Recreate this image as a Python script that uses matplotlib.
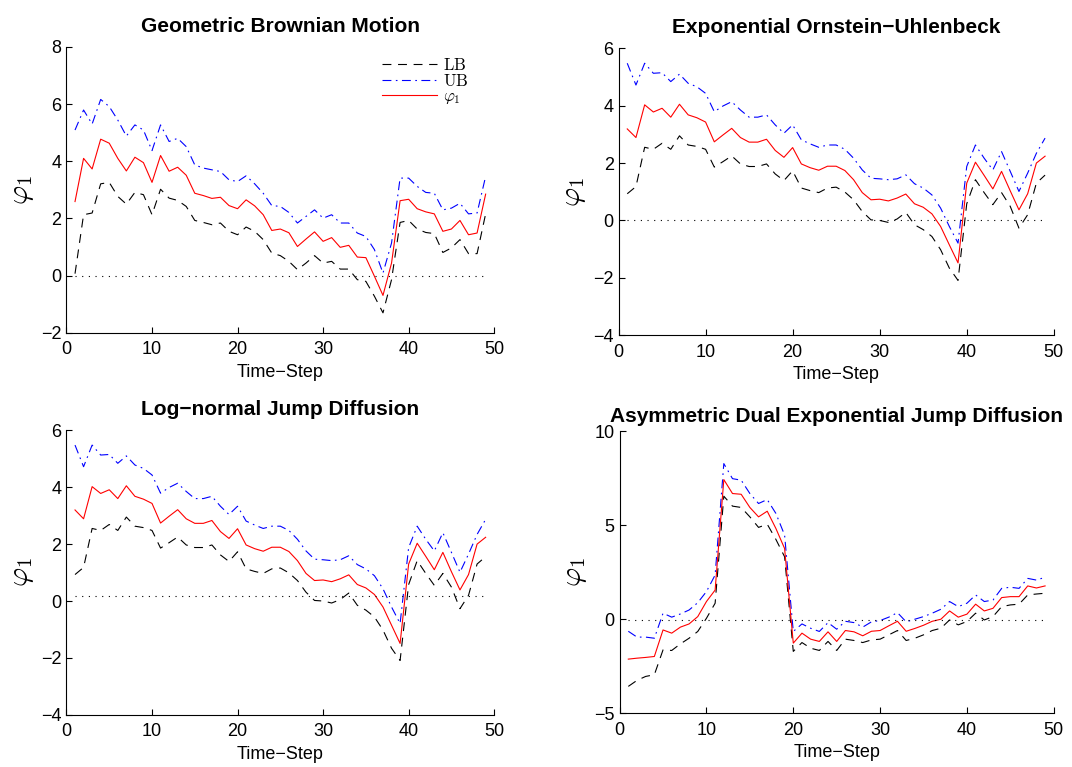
import matplotlib
matplotlib.use("Agg")
import matplotlib.pyplot as plt

plt.rcParams['font.family'] = ['Liberation Sans', 'DejaVu Sans']
plt.rcParams['mathtext.fontset'] = 'cm'

steps = list(range(1, 50))

# Geometric Brownian Motion
gbm_lb = [0.07, 2.13, 2.19, 3.21, 3.26, 2.77, 2.50, 2.91, 2.83, 2.13,
          3.02, 2.71, 2.63, 2.42, 1.93, 1.86, 1.78, 1.84, 1.55, 1.43,
          1.70, 1.55, 1.26, 0.79, 0.70, 0.50, 0.21, 0.44, 0.70, 0.44,
          0.50, 0.23, 0.23, -0.14, -0.20, -0.72, -1.30, -0.14, 1.86, 1.93,
          1.63, 1.51, 1.47, 0.81, 0.97, 1.26, 0.77, 0.77, 2.16]
gbm_ub = [5.09, 5.79, 5.30, 6.16, 5.91, 5.44, 4.88, 5.27, 5.09, 4.37,
          5.27, 4.69, 4.80, 4.51, 3.87, 3.76, 3.70, 3.64, 3.35, 3.29,
          3.49, 3.21, 2.88, 2.45, 2.42, 2.21, 1.84, 2.07, 2.30, 2.01,
          2.13, 1.84, 1.84, 1.49, 1.37, 0.91, 0.09, 1.14, 3.41, 3.41,
          3.12, 2.91, 2.88, 2.30, 2.36, 2.53, 2.16, 2.19, 3.47]
gbm_phi = [2.59, 4.10, 3.73, 4.77, 4.63, 4.10, 3.66, 4.14, 3.95, 3.26,
           4.20, 3.65, 3.79, 3.51, 2.88, 2.80, 2.70, 2.74, 2.45, 2.34,
           2.65, 2.44, 2.13, 1.58, 1.63, 1.50, 1.02, 1.28, 1.53, 1.20,
           1.33, 0.99, 1.06, 0.65, 0.63, -0.02, -0.69, 0.44, 2.62, 2.67,
           2.34, 2.23, 2.16, 1.55, 1.63, 1.93, 1.43, 1.49, 2.85]

# Exponential Ornstein-Uhlenbeck
eou_lb = [0.93, 1.18, 2.55, 2.48, 2.69, 2.48, 2.95, 2.63, 2.58, 2.48,
          1.86, 2.05, 2.25, 1.97, 1.88, 1.88, 1.97, 1.62, 1.39, 1.73,
          1.13, 1.04, 0.97, 1.13, 1.16, 0.99, 0.72, 0.31, 0.02, 0.00,
          -0.07, 0.05, 0.28, -0.15, -0.32, -0.56, -1.02, -1.66, -2.09, 0.58,
          1.42, 0.97, 0.55, 0.97, 0.49, -0.27, 0.20, 1.30, 1.58]
eou_ub = [5.48, 4.72, 5.48, 5.13, 5.15, 4.84, 5.10, 4.78, 4.66, 4.43,
          3.79, 3.99, 4.14, 3.85, 3.60, 3.60, 3.68, 3.33, 3.04, 3.33,
          2.81, 2.67, 2.55, 2.63, 2.63, 2.48, 2.17, 1.76, 1.47, 1.45,
          1.42, 1.45, 1.59, 1.28, 1.13, 0.89, 0.43, -0.21, -0.79, 1.88,
          2.63, 2.17, 1.76, 2.40, 1.71, 1.01, 1.65, 2.34, 2.87]
eou_phi = [3.19, 2.89, 4.03, 3.78, 3.91, 3.60, 4.05, 3.68, 3.58, 3.43,
           2.74, 2.98, 3.21, 2.89, 2.73, 2.73, 2.83, 2.44, 2.20, 2.54,
           1.97, 1.84, 1.75, 1.89, 1.89, 1.74, 1.42, 0.97, 0.72, 0.74,
           0.68, 0.78, 0.92, 0.58, 0.46, 0.23, -0.21, -0.85, -1.48, 1.30,
           2.03, 1.57, 1.10, 1.71, 1.03, 0.37, 0.93, 2.00, 2.24]

# Log-normal Jump Diffusion
ljd_lb = [0.93, 1.18, 2.55, 2.48, 2.69, 2.48, 2.95, 2.63, 2.58, 2.48,
          1.86, 2.05, 2.25, 1.97, 1.88, 1.88, 1.97, 1.62, 1.39, 1.73,
          1.13, 1.04, 0.97, 1.13, 1.16, 0.99, 0.72, 0.31, 0.02, 0.00,
          -0.07, 0.05, 0.28, -0.15, -0.32, -0.56, -1.02, -1.66, -2.09, 0.58,
          1.42, 0.97, 0.55, 0.97, 0.49, -0.27, 0.20, 1.30, 1.56]
ljd_ub = [5.48, 4.72, 5.48, 5.13, 5.15, 4.84, 5.10, 4.78, 4.66, 4.43,
          3.79, 3.99, 4.14, 3.85, 3.60, 3.60, 3.68, 3.33, 3.04, 3.33,
          2.81, 2.67, 2.55, 2.63, 2.63, 2.48, 2.17, 1.76, 1.47, 1.45,
          1.42, 1.45, 1.59, 1.28, 1.13, 0.89, 0.43, -0.21, -0.79, 1.88,
          2.63, 2.17, 1.76, 2.40, 1.71, 1.01, 1.65, 2.34, 2.87]
ljd_phi = [3.20, 2.89, 4.02, 3.78, 3.91, 3.60, 4.05, 3.68, 3.58, 3.43,
           2.74, 2.98, 3.21, 2.89, 2.73, 2.73, 2.83, 2.44, 2.20, 2.54,
           1.97, 1.84, 1.75, 1.89, 1.89, 1.74, 1.42, 0.97, 0.72, 0.74,
           0.68, 0.78, 0.92, 0.58, 0.46, 0.23, -0.21, -0.85, -1.49, 1.30,
           2.03, 1.57, 1.10, 1.71, 1.03, 0.39, 0.93, 2.00, 2.24]

# Asymmetric Dual Exponential Jump Diffusion
ade_lb = [-3.57, -3.25, -3.04, -2.95, -1.63, -1.66, -1.31, -1.01, -0.65, 0.05,
          0.85, 6.54, 6.01, 5.94, 5.44, 4.88, 5.05, 4.24, 3.32, -1.71,
          -1.24, -1.54, -1.66, -1.18, -1.66, -1.06, -1.13, -1.24, -1.10, -1.06,
          -0.83, -0.60, -1.13, -1.01, -0.83, -0.60, -0.48, -0.04, -0.30, -0.12,
          0.32, -0.04, 0.14, 0.67, 0.76, 0.80, 1.29, 1.34, 1.38]
ade_ub = [-0.64, -0.95, -0.95, -1.01, 0.32, 0.11, 0.28, 0.49, 0.88, 1.47,
          2.35, 8.27, 7.47, 7.39, 6.68, 6.15, 6.36, 5.62, 4.47, -0.65,
          -0.25, -0.48, -0.65, -0.18, -0.53, -0.11, -0.18, -0.42, -0.14, -0.07,
          0.11, 0.35, -0.14, 0.00, 0.14, 0.32, 0.53, 0.94, 0.67, 0.85,
          1.29, 0.94, 1.02, 1.64, 1.70, 1.64, 2.17, 2.08, 2.23]
ade_phi = [-2.12, -2.07, -2.03, -1.98, -0.57, -0.74, -0.42, -0.25, 0.14, 0.94,
           1.55, 7.42, 6.68, 6.64, 5.94, 5.44, 5.74, 4.82, 3.76, -1.27,
           -0.74, -1.06, -1.18, -0.67, -1.18, -0.60, -0.67, -0.88, -0.64, -0.60,
           -0.35, -0.11, -0.64, -0.49, -0.32, -0.11, 0.00, 0.44, 0.11, 0.27,
           0.80, 0.44, 0.58, 1.15, 1.20, 1.20, 1.77, 1.66, 1.77]

titles = ['Geometric Brownian Motion', 'Exponential Ornstein\u2212Uhlenbeck',
          'Log\u2212normal Jump Diffusion', 'Asymmetric Dual Exponential Jump Diffusion']
ylims = [(-2, 8), (-4, 6), (-4, 6), (-5, 10)]
yticks = [[-2, 0, 2, 4, 6, 8], [-4, -2, 0, 2, 4, 6], [-4, -2, 0, 2, 4, 6], [-5, 0, 5, 10]]
ref_levels = [0, 0, 0.18, -0.05]

panels = [(gbm_lb, gbm_ub, gbm_phi), (eou_lb, eou_ub, eou_phi),
          (ljd_lb, ljd_ub, ljd_phi), (ade_lb, ade_ub, ade_phi)]

positions = [[0.062, 0.566, 0.399, 0.373],
             [0.577, 0.563, 0.406, 0.374],
             [0.062, 0.068, 0.399, 0.371],
             [0.578, 0.070, 0.405, 0.368]]
title_pads = [11, 11, 11, 6.5]

fig = plt.figure(figsize=(10.72, 7.67), dpi=100)

for i, (lb, ub, phi) in enumerate(panels):
    ax = fig.add_axes(positions[i])
    ax.plot(steps, lb, color='black', lw=0.8, dashes=(8, 6), label=r'$\mathrm{LB}$')
    ax.plot(steps, ub, color='blue', lw=0.8, dashes=(8, 4, 1.5, 4), label=r'$\mathrm{UB}$')
    ax.plot(steps, phi, color='red', lw=0.8, label=r'$\varphi_1$')
    ax.plot([steps[0], steps[-1]], [ref_levels[i]] * 2, color='black', lw=0.8,
            dashes=(1, 5))

    ax.set_xlim(0, 50)
    ax.set_ylim(*ylims[i])
    ax.set_xticks([0, 10, 20, 30, 40, 50])
    ax.set_yticks(yticks[i])
    ax.set_yticklabels([str(t).replace('-', '\u2212') for t in yticks[i]])
    ax.spines['top'].set_visible(False)
    ax.spines['right'].set_visible(False)
    ax.tick_params(direction='in', length=4, labelsize=13, top=False, right=False)
    ax.tick_params(axis='x', pad=6)
    ax.set_title(titles[i], fontsize=15, fontweight='bold', pad=title_pads[i])
    ax.set_xlabel('Time\u2212Step', fontsize=13, labelpad=4)
    ax.set_ylabel(r'$\varphi_1$', fontsize=21, labelpad=4)

    if i == 0:
        ax.legend(loc='upper right', bbox_to_anchor=(0.94, 0.965), frameon=False,
                  fontsize=12, handlelength=3.3, labelspacing=0.0,
                  handletextpad=0.35, borderaxespad=0, borderpad=0)

fig.savefig('out.png', dpi=100)
